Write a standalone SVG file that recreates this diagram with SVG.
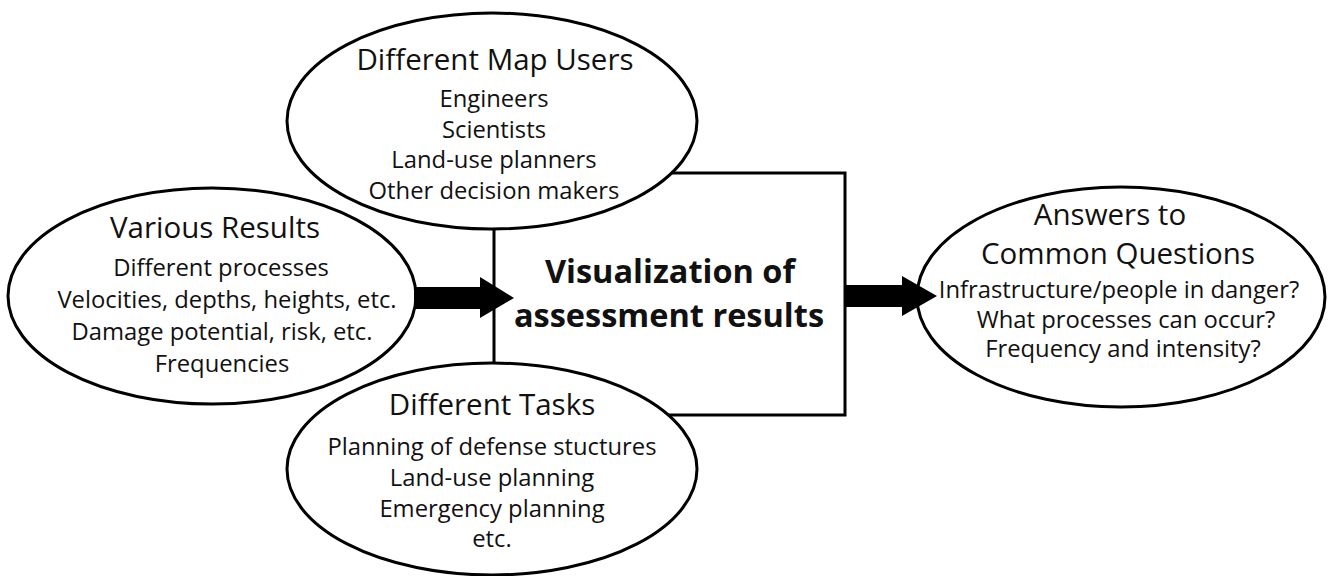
<svg xmlns="http://www.w3.org/2000/svg" width="1332" height="576" viewBox="0 0 1332 576">
<style>
.bg{fill:#ffffff}
.shape{fill:#ffffff;stroke:#000000;stroke-width:3}
.title{font-family:"Open Sans","Noto Sans",sans-serif;font-size:29.5px;fill:#111111;text-anchor:middle}
.body{font-family:"Open Sans","Noto Sans",sans-serif;font-size:23.8px;fill:#111111;text-anchor:middle}
.main{font-family:"Open Sans","Noto Sans",sans-serif;font-size:32.5px;font-weight:bold;fill:#111111;text-anchor:middle}
.arrow{fill:#000000;stroke:none}
</style>
<rect class="bg" x="0" y="0" width="1332" height="576"/>
<g id="box">
  <rect class="shape" x="494" y="173" width="351" height="242"/>
  <text class="main" x="670" y="283">Visualization of</text>
  <text class="main" x="669" y="327">assessment results</text>
</g>
<g id="map-users">
  <ellipse class="shape" cx="492" cy="121" rx="205" ry="108"/>
  <text class="title" x="495" y="70">Different Map Users</text>
  <text class="body" x="494" y="107">Engineers</text>
  <text class="body" x="494" y="138">Scientists</text>
  <text class="body" x="494" y="168">Land-use planners</text>
  <text class="body" x="494" y="199">Other decision makers</text>
</g>
<g id="tasks">
  <ellipse class="shape" cx="492" cy="469" rx="205" ry="106"/>
  <text class="title" x="492" y="415">Different Tasks</text>
  <text class="body" x="492" y="455">Planning of defense stuctures</text>
  <text class="body" x="492" y="486">Land-use planning</text>
  <text class="body" x="492" y="517">Emergency planning</text>
  <text class="body" x="492" y="547">etc.</text>
</g>
<g id="results">
  <ellipse class="shape" cx="212" cy="296" rx="204" ry="108"/>
  <text class="title" x="215" y="238">Various Results</text>
  <text class="body" x="221" y="276">Different processes</text>
  <text class="body" x="227" y="308">Velocities, depths, heights, etc.</text>
  <text class="body" x="222" y="340">Damage potential, risk, etc.</text>
  <text class="body" x="222" y="372">Frequencies</text>
</g>
<g id="answers">
  <ellipse class="shape" cx="1121" cy="297" rx="204" ry="110"/>
  <text class="title" x="1110" y="225">Answers to</text>
  <text class="title" x="1118" y="264">Common Questions</text>
  <text class="body" x="1119" y="298">Infrastructure/people in danger?</text>
  <text class="body" x="1126" y="328">What processes can occur?</text>
  <text class="body" x="1123" y="357">Frequency and intensity?</text>
</g>
<g id="connectors">
  <polygon class="arrow" points="414,287 480,287 480,277 514,298 480,318 480,309 414,309"/>
  <polygon class="arrow" points="845,285 902,285 902,276 937,296 902,316 902,307 845,307"/>
</g>
</svg>
